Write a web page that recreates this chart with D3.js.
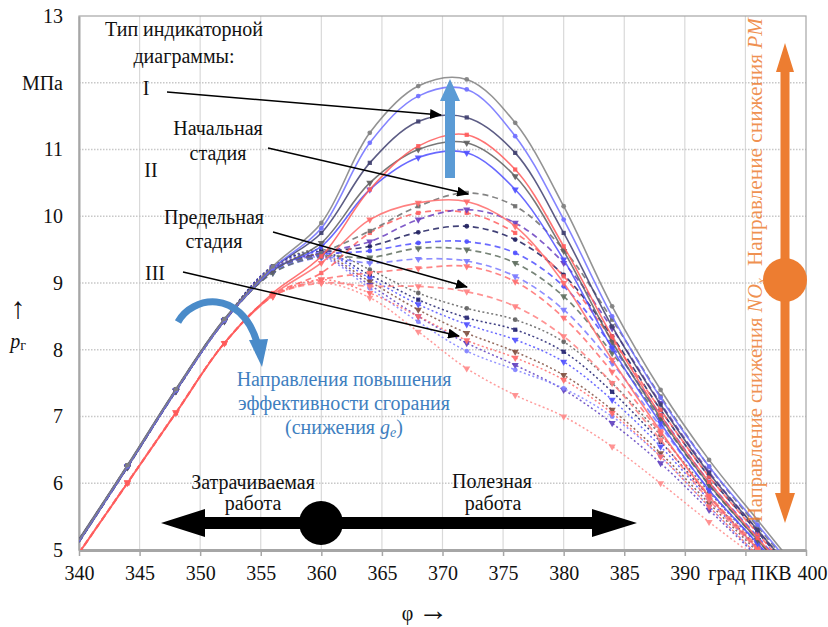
<!DOCTYPE html>
<html><head><meta charset="utf-8">
<script src="https://cdn.jsdelivr.net/npm/d3@7"></script>
<style>
body{margin:0;background:#fff;}
svg text{font-family:"Liberation Serif","DejaVu Serif","Noto Serif",serif !important;}
</style></head>
<body><svg id="c" width="828" height="627" font-family="Liberation Serif, DejaVu Serif, serif"></svg>
<script>
// ---- data ----
const phi = [340,344,348,352,356,360,364,368,372,376,380,384,388,392,396,400];
const xTicks = [340,345,350,355,360,365,370,375,380,385,390,395,400];
const xTickLabels = ["340","345","350","355","360","365","370","375","380","385","390","град ПКВ","400"];
const yTicks = [5,6,7,8,9,10,11,12,13];
const yTickLabels = ["5","6","7","8","9","10","11","МПа","13"];

// Type I (solid)
const S1 = [5.15,6.27,7.41,8.46,9.25,9.90,11.25,11.95,12.05,11.40,10.15,8.65,7.40,6.35,5.45,4.55];
const S2 = [5.13,6.25,7.39,8.44,9.22,9.82,11.10,11.80,11.90,11.20,9.95,8.50,7.28,6.25,5.38,4.50];
const S3 = [5.16,6.27,7.41,8.46,9.22,9.75,10.80,11.42,11.48,10.95,9.75,8.35,7.18,6.15,5.30,4.45];
const S4 = [4.95,6.00,7.05,8.10,8.85,9.40,10.40,11.05,11.22,10.70,9.55,8.20,7.02,6.02,5.18,4.38];
const S5 = [5.12,6.24,7.38,8.43,9.18,9.60,10.50,11.00,11.10,10.60,9.48,8.12,6.98,5.98,5.15,4.35];
const S6 = [5.13,6.25,7.39,8.44,9.20,9.55,10.40,10.88,10.95,10.40,9.35,8.02,6.90,5.90,5.10,4.30];
const S7 = [4.96,6.01,7.06,8.10,8.82,9.30,9.95,10.20,10.22,9.85,9.00,7.85,6.78,5.80,5.02,4.25];
// Type II (dashed)
const D1 = [5.14,6.26,7.40,8.45,9.20,9.45,9.78,10.15,10.35,10.15,9.50,8.45,7.30,6.25,5.35,4.50];
const D2 = [5.13,6.25,7.39,8.44,9.20,9.45,9.62,9.95,10.10,9.90,9.30,8.32,7.20,6.17,5.30,4.45];
const D3 = [4.95,6.00,7.05,8.10,8.82,9.15,9.75,10.05,10.05,9.75,9.10,8.15,7.10,6.10,5.25,4.40];
const D4 = [5.15,6.26,7.40,8.45,9.20,9.45,9.55,9.76,9.85,9.65,9.12,8.20,7.10,6.10,5.27,4.42];
const D5 = [5.13,6.25,7.39,8.44,9.18,9.42,9.48,9.60,9.62,9.45,8.95,8.05,7.02,6.02,5.20,4.38];
const D6 = [5.12,6.24,7.38,8.43,9.15,9.40,9.38,9.52,9.50,9.30,8.80,7.95,6.95,5.97,5.15,4.35];
const D7 = [5.12,6.24,7.38,8.43,9.15,9.38,9.30,9.36,9.33,9.10,8.60,7.80,6.85,5.90,5.10,4.30];
const D8 = [4.96,6.01,7.06,8.10,8.80,9.05,9.15,9.22,9.25,9.02,8.48,7.67,6.75,5.82,5.05,4.25];
const D9 = [4.96,6.01,7.06,8.10,8.80,9.00,8.95,8.95,8.87,8.65,8.20,7.50,6.65,5.75,5.00,4.20];
// Type III (dotted)
const T1 = [5.14,6.26,7.40,8.45,9.25,9.50,9.20,8.85,8.62,8.45,8.12,7.50,6.72,5.87,5.08,4.30];
const T2 = [5.15,6.26,7.40,8.45,9.25,9.47,9.12,8.75,8.48,8.30,7.97,7.37,6.62,5.80,5.03,4.25];
const T3 = [5.13,6.25,7.39,8.44,9.24,9.45,9.07,8.68,8.38,8.15,7.82,7.25,6.55,5.75,5.00,4.20];
const T4 = [5.12,6.24,7.38,8.43,9.22,9.42,9.02,8.60,8.25,7.97,7.62,7.10,6.45,5.70,4.97,4.20];
const T5 = [5.12,6.24,7.38,8.43,9.22,9.40,8.97,8.50,8.10,7.77,7.40,6.90,6.30,5.60,4.90,4.15];
const T6 = [5.12,6.24,7.38,8.43,9.20,9.38,8.92,8.42,7.98,7.70,7.42,7.00,6.40,5.65,4.92,4.15];
const T7 = [4.96,6.01,7.06,8.10,8.80,9.05,8.85,8.50,8.14,7.88,7.55,7.05,6.40,5.65,4.92,4.15];
const T8 = [4.96,6.01,7.06,8.10,8.80,9.00,8.78,8.27,7.72,7.32,7.00,6.55,6.00,5.42,4.85,4.10];

// series table (values + style)
const series = [
  {v:T1,c:"#5f5f5f",d:"2,2.5",m:"o"},{v:T2,c:"#1f1f6f",d:"2,2.5",m:"s"},
  {v:T3,c:"#4f4fff",d:"2,2.5",m:"v"},{v:T4,c:"#7f4f3f",d:"2,2.5",m:"v"},
  {v:T5,c:"#5f3fbf",d:"2,2.5",m:"v"},{v:T6,c:"#8080ff",d:"2,2.5",m:"o"},
  {v:T7,c:"#ff6a6a",d:"2,2.5",m:"v"},{v:T8,c:"#ff8a8a",d:"2,2.5",m:"v"},
  {v:D9,c:"#ff8080",d:"6,4",m:"v"},{v:D8,c:"#ff7070",d:"6,4",m:"v"},
  {v:D7,c:"#7a7aff",d:"6,4",m:"v"},{v:D6,c:"#5f6f5f",d:"6,4",m:"v"},
  {v:D5,c:"#5050ff",d:"6,4",m:"o"},{v:D4,c:"#20205f",d:"6,4",m:"o"},
  {v:D3,c:"#ff6060",d:"6,4",m:"s"},{v:D2,c:"#6a3fbf",d:"6,4",m:"v"},
  {v:D1,c:"#6f6f6f",d:"6,4",m:"s"},
  {v:S7,c:"#ff6a6a",d:null,m:"v"},{v:S6,c:"#4f4fff",d:null,m:"v"},
  {v:S5,c:"#5f5f5f",d:null,m:"v"},{v:S4,c:"#ff5a5a",d:null,m:"s"},
  {v:S3,c:"#3f3f6f",d:null,m:"s"},{v:S2,c:"#6f6fff",d:null,m:"o"},
  {v:S1,c:"#808080",d:null,m:"o"}
];

// ---- chart ----
const FONT = "Liberation Serif, DejaVu Serif, serif";
const svg = d3.select("#c");
const L=79, R=806, T=16, B=550;
const x = d3.scaleLinear().domain([340,400]).range([L,R]);
const y = d3.scaleLinear().domain([5,13]).range([B,T]);

// grid
const g = svg.append("g");
g.selectAll(".vg").data(xTicks.slice(1,-1)).join("line")
  .attr("x1",d=>x(d)).attr("x2",d=>x(d)).attr("y1",T).attr("y2",B)
  .attr("stroke","#d9d9d9").attr("stroke-width",1.2);
g.selectAll(".hg").data(yTicks.slice(1,-1)).join("line")
  .attr("x1",L).attr("x2",R).attr("y1",d=>y(d)).attr("y2",d=>y(d))
  .attr("stroke","#c8c8c8").attr("stroke-width",1.5).attr("stroke-dasharray","1.5,1.5");
// frame
svg.append("rect").attr("x",L).attr("y",T).attr("width",R-L).attr("height",B-T)
  .attr("fill","none").attr("stroke","#a6a6a6").attr("stroke-width",1.2);

// axes
const xAxis = d3.axisBottom(x).tickValues(xTicks).tickFormat((d,i)=>xTickLabels[i]).tickSize(6).tickSizeOuter(0);
const xa = svg.append("g").attr("transform",`translate(0,${B})`).call(xAxis).attr("font-family",FONT);
xa.select(".domain").attr("stroke","#a6a6a6").attr("stroke-width",3);
xa.selectAll(".tick line").attr("stroke","#a6a6a6").attr("stroke-width",1.5);
xa.selectAll(".tick text").attr("font-size",20).attr("fill","#111").attr("dy","1.05em");
xa.selectAll(".tick text").filter(d=>d===400).attr("text-anchor","end").attr("dx",21);
xa.selectAll(".tick text").filter(d=>d===395).attr("dx",4);

const yAxis = d3.axisLeft(y).tickValues(yTicks).tickFormat((d,i)=>yTickLabels[i]).tickSize(0).tickPadding(16);
const ya = svg.append("g").attr("transform",`translate(${L},0)`).call(yAxis).attr("font-family",FONT);
ya.select(".domain").attr("stroke","#a6a6a6").attr("stroke-width",2);
ya.selectAll(".tick text").attr("font-size",20).attr("fill","#111");

// clip
svg.append("clipPath").attr("id","clip").append("rect").attr("x",L).attr("y",T).attr("width",R-L).attr("height",B-T);
const plot = svg.append("g").attr("clip-path","url(#clip)");

const line = d3.line().x((d,i)=>x(phi[i])).y(d=>y(d)).curve(d3.curveCatmullRom.alpha(0.5));
const symType = {o:d3.symbolCircle, s:d3.symbolSquare, v:d3.symbolTriangle};
series.forEach(s=>{
  plot.append("path").attr("d",line(s.v)).attr("fill","none").attr("stroke",s.c)
    .attr("stroke-width",s.d? (s.d==="6,4"?1.7:1.5):1.6).attr("stroke-opacity",0.85)
    .attr("stroke-dasharray",s.d);
  const sym = d3.symbol().type(symType[s.m]).size(s.m==="v"?22:18);
  plot.selectAll(null).data(s.v.slice(1)).join("path")
    .attr("d",sym)
    .attr("transform",(d,i)=>`translate(${x(phi[i+1])},${y(d)})${s.m==="v"?" rotate(180)":""}`)
    .attr("fill",s.c).attr("fill-opacity",0.9);
});

// ---- annotations ----
const defs = svg.append("defs");
defs.append("marker").attr("id","ah").attr("viewBox","0 0 12 10").attr("refX",11).attr("refY",5)
  .attr("markerWidth",12).attr("markerHeight",10).attr("markerUnits","userSpaceOnUse").attr("orient","auto")
  .append("path").attr("d","M0,0L12,5L0,10Z").attr("fill","#000");

const arrows = [[167,92,441,115],[268,148,468,194],[273,232,467,287],[183,272,459,336]];
svg.selectAll(".arr").data(arrows).join("line")
  .attr("x1",d=>d[0]).attr("y1",d=>d[1]).attr("x2",d=>d[2]).attr("y2",d=>d[3])
  .attr("stroke","#000").attr("stroke-width",1.5).attr("marker-end","url(#ah)");

function txt(s,xx,yy,opt={}){
  return svg.append("text").attr("x",xx).attr("y",yy).attr("text-anchor",opt.anchor||"middle")
    .attr("font-family",FONT)
    .attr("font-size",opt.size||20).attr("fill",opt.fill||"#111").text(s);
}
txt("Тип индикаторной",184,36);
txt("диаграммы:",184,63);
txt("I",146,95);
txt("Начальная",218,135);
txt("стадия",218,160);
txt("II",151,177);
txt("Предельная",214,224);
txt("стадия",214,248);
txt("III",155,280);

// blue vertical arrow
svg.append("path").attr("d","M445,178 L455,178 L455,101 L460,101 L450,79 L440,101 L445,101 Z")
  .attr("fill","#5b9bd5");

// blue curved arrow
svg.append("path").attr("d","M178,322 C192,296 240,288 257,342").attr("fill","none")
  .attr("stroke","#4a8bc9").attr("stroke-width",7);
svg.append("path").attr("d","M249,340 L268,339 L262,367 Z").attr("fill","#4a8bc9");

const blue="#3f7fc0";
txt("Направления повышения",344,386,{fill:blue});
txt("эффективности сгорания",344,410,{fill:blue});
const t3 = txt("",344,434,{fill:blue});
t3.append("tspan").text("(снижения ");
t3.append("tspan").attr("font-style","italic").text("g");
t3.append("tspan").attr("font-style","italic").attr("font-size",14).attr("dy",3).text("е");
t3.append("tspan").attr("dy",-3).text(")");

// black horizontal double arrow
svg.append("path").attr("d","M161,523 L205,509 L205,517 L592,517 L592,509 L637,523 L592,537 L592,529 L205,529 L205,537 Z")
  .attr("fill","#000");
svg.append("circle").attr("cx",321).attr("cy",523).attr("r",22).attr("fill","#000");
txt("Затрачиваемая",253,489);
txt("работа",253,510);
txt("Полезная",492,488);
txt("работа",493,510);

// orange vertical double arrow
const orange="#ed7d31";
svg.append("path").attr("d","M785,43 L794,72 L789.5,72 L789.5,493 L795,493 L785,523 L775,493 L780.5,493 L780.5,72 L776,72 Z")
  .attr("fill",orange);
svg.append("circle").attr("cx",785).attr("cy",280).attr("r",22).attr("fill",orange);

const o1 = svg.append("text").attr("transform","translate(762,522) rotate(-90)").attr("font-family",FONT)
  .attr("font-size",20).attr("fill",orange).attr("fill-opacity",0.85)
  .attr("textLength",244).attr("lengthAdjust","spacingAndGlyphs");
o1.append("tspan").text("Направление снижения ");
o1.append("tspan").attr("font-style","italic").text("NO");
o1.append("tspan").attr("font-style","italic").attr("font-size",13).attr("dy",3).text("x");
const o2 = svg.append("text").attr("transform","translate(762,266) rotate(-90)").attr("font-family",FONT)
  .attr("font-size",20).attr("fill",orange).attr("fill-opacity",0.85)
  .attr("textLength",248).attr("lengthAdjust","spacingAndGlyphs");
o2.append("tspan").text("Направление снижения ");
o2.append("tspan").attr("font-style","italic").text("PM");

// axis titles
txt("↑",18,318,{size:30});
const pt = txt("",18,348,{size:20});
pt.append("tspan").attr("font-style","italic").text("p");
pt.append("tspan").attr("font-size",14).attr("dy",2).text("г");
const xt = txt("",425,620,{size:20});
xt.append("tspan").text("φ ");
xt.append("tspan").attr("font-size",30).text("→");
</script></body></html>
